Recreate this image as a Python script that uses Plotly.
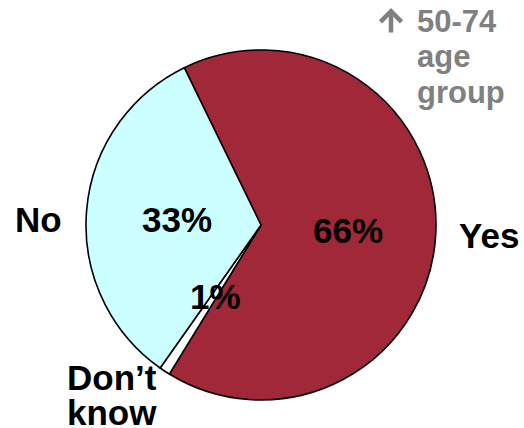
import plotly.graph_objects as go

labels = ["Yes", "Don\u2019t know", "No"]
values = [66, 1, 33]
colors = ["#A12838", "#FFFFFF", "#CCFFFF"]
group_note = ["50-74", "age", "group"]

W, H = 524, 428
cx, cy, r = 261, 225, 175

fig = go.Figure()
fig.add_trace(go.Pie(
    labels=labels,
    values=values,
    sort=False,
    direction="clockwise",
    rotation=-26,
    marker=dict(colors=colors, line=dict(color="black", width=1.6)),
    textinfo="none",
    hoverinfo="label+percent",
    showlegend=False,
    domain=dict(x=[(cx - r) / W, (cx + r) / W],
                y=[(H - cy - r) / H, (H - cy + r) / H]),
))

FAM = "Liberation Sans, Arial, sans-serif"
font = dict(family=FAM, size=35, color="black")


def note(x, y, text, f, xanchor="center"):
    fig.add_annotation(x=x / W, y=1 - y / H, xref="paper", yref="paper",
                       text=text, showarrow=False, font=f,
                       xanchor=xanchor, yanchor="middle")


# percentage labels inside the slices
pct_pos = [(348, 230), (215, 296), (177, 220)]
for v, (x, y) in zip(values, pct_pos):
    note(x, y, "<b>%d%%</b>" % v, font)

# category labels outside the pie
note(489, 235, "<b>%s</b>" % labels[0], font)
dk = labels[1].split(" ")
note(65, 377, "<b>%s</b>" % dk[0], font, "left")
note(65, 412, "<b>%s</b>" % dk[1], font, "left")
note(38, 219, "<b>%s</b>" % labels[2], font)

# up arrow next to the age-group note
fig.add_annotation(x=391 / W, y=1 - 8 / H, xref="paper", yref="paper",
                   text="", showarrow=True, ax=0, ay=26,
                   arrowhead=4, arrowsize=0.9, arrowwidth=4.5,
                   arrowcolor="#808080", standoff=0, startstandoff=0)

grey = dict(family=FAM, size=31, color="#808080")
for i, line in enumerate(group_note):
    note(415, 21 + 35.5 * i, "<b>%s</b>" % line, grey, "left")

fig.update_layout(
    width=W, height=H,
    margin=dict(l=0, r=0, t=0, b=0),
    paper_bgcolor="white",
    plot_bgcolor="white",
)

fig.write_html("out.html", config={"displayModeBar": False},
               post_script="document.body.style.margin='0';")
